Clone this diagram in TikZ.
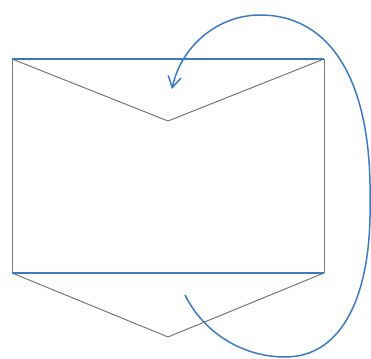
\documentclass[tikz,border=0pt]{standalone}
\usepackage{xcolor}
\usepackage{tikz}
\usetikzlibrary{arrows.meta}

\definecolor{edgeblue}{RGB}{62,122,196}
\definecolor{edgegray}{RGB}{125,118,110}

\begin{document}
\begin{tikzpicture}[x=1pt, y=-1pt, line join=round,
  fold/.style={draw=edgegray, line width=1pt},
  rim/.style={draw=edgeblue, line width=1.6pt},
  turn/.style={draw=edgeblue, line width=1.5pt, -{Straight Barb[length=11pt, width=13pt, line width=1.5pt]}}]
\useasboundingbox (0,0) rectangle (371,358);
% corners of the sheet and tips of the two flaps
\coordinate (tl) at (12,59);
\coordinate (tr) at (324,59);
\coordinate (bl) at (12,273);
\coordinate (br) at (324,273);
\coordinate (topv) at (168,121);
\coordinate (botv) at (168,337);
% path of the turning arrow
\coordinate (from) at (185,295);
\coordinate (low) at (285,357);
\coordinate (side) at (370,200);
\coordinate (high) at (260,15);
\coordinate (into) at (172,89);
\draw[fold] (tl) -- (bl);
\draw[fold] (tr) -- (br);
\draw[fold] (tl) -- (topv) -- (tr);
\draw[fold] (bl) -- (botv) -- (br);
\draw[rim] (tl) -- (tr);
\draw[rim] (bl) -- (br);
\draw[turn] (from) .. controls (205,335) and (245,357) .. (low)
  .. controls (345,357) and (372,290) .. (side)
  .. controls (372,80) and (330,15) .. (high)
  .. controls (218,15) and (181,46) .. (into);
\end{tikzpicture}
\end{document}
